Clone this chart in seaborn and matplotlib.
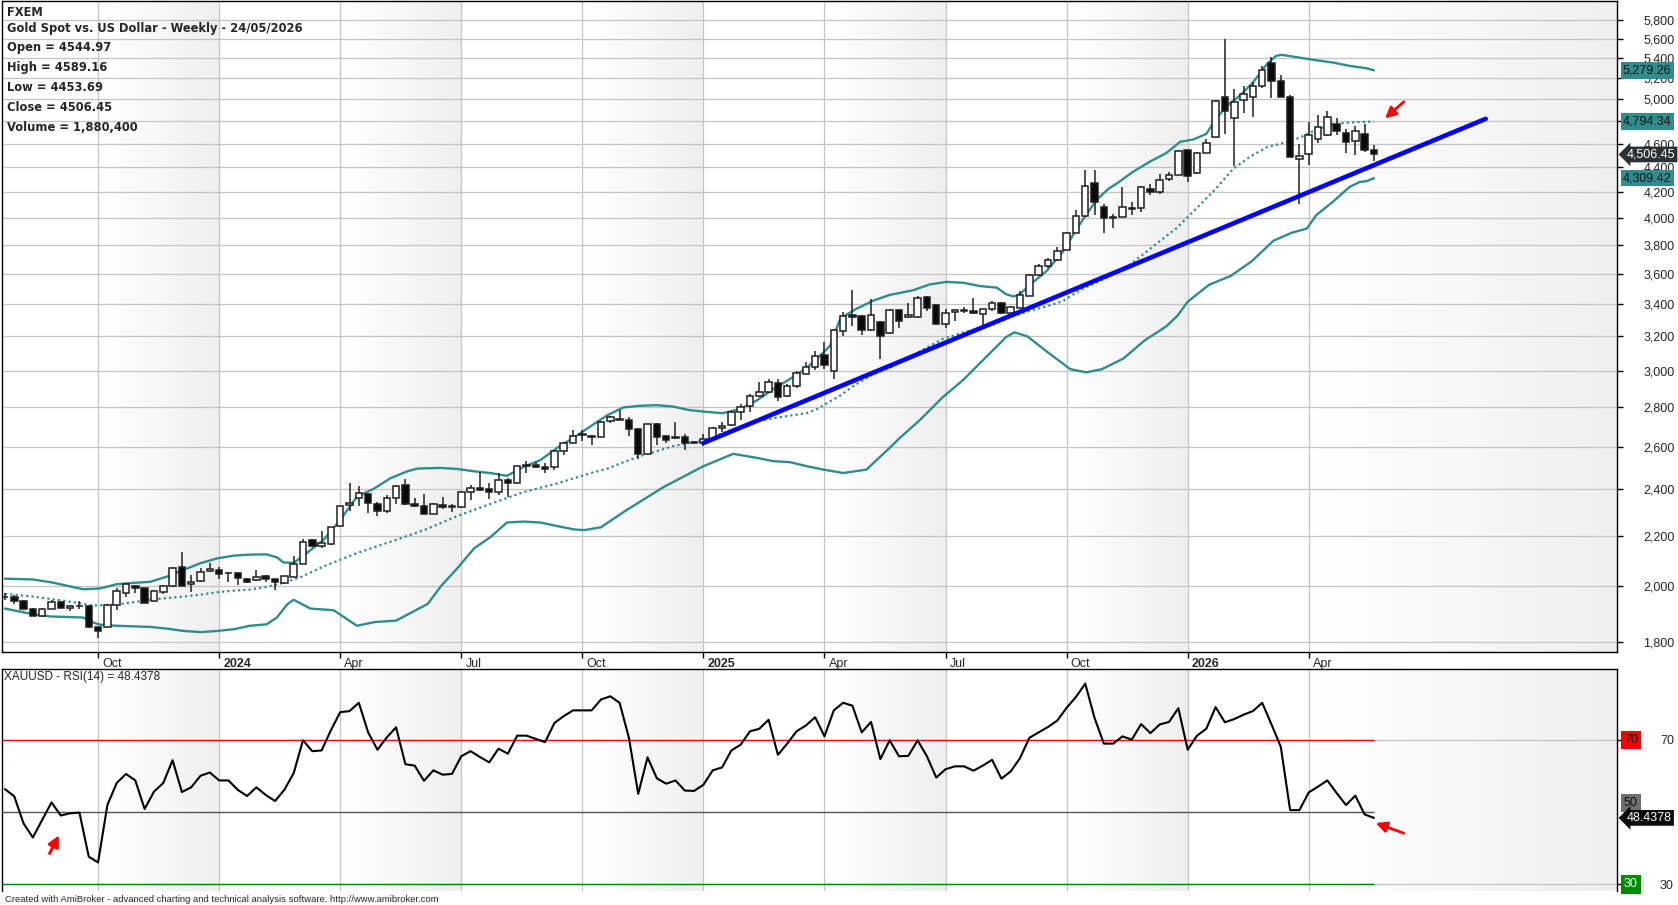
import numpy as np
import pandas as pd
import matplotlib
matplotlib.use("Agg")
import matplotlib.pyplot as plt
import matplotlib.transforms as mtransforms
from matplotlib.ticker import FixedLocator, NullLocator
import seaborn as sns

# ---------------- data ----------------
start_date = "2023-07-28"   # weekly bars, friday dated

opens = [1962, 1960, 1946, 1918, 1893, 1918, 1942, 1921, 1928, 1928,
         1851, 1852, 1932, 1974, 2001, 1992, 1944, 1979, 2000, 2076,
         2008, 2020, 2057, 2064, 2051, 2050, 2029, 2023, 2041, 2026,
         2011, 2034, 2087, 2181, 2156, 2164, 2240, 2329, 2360, 2380,
         2334, 2304, 2360, 2421, 2334, 2328, 2292, 2329, 2327, 2321,
         2387, 2408, 2403, 2387, 2443, 2427, 2514, 2515, 2504, 2501,
         2579, 2620, 2665, 2655, 2651, 2728, 2740, 2735, 2687, 2566,
         2713, 2656, 2651, 2650, 2626, 2617, 2641, 2692, 2708, 2774,
         2806, 2859, 2884, 2934, 2859, 2916, 2984, 3022, 3088, 2999,
         3234, 3330, 3326, 3242, 3287, 3221, 3361, 3318, 3322, 3447,
         3396, 3277, 3350, 3363, 3357, 3340, 3368, 3409, 3346, 3379,
         3454, 3593, 3651, 3692, 3768, 3890, 4015, 4267, 4085, 4005,
         4008, 4077, 4072, 4221, 4200, 4301, 4339, 4541, 4351, 4523,
         4655, 5022, 4829, 4990, 5022, 5124, 5357, 5175, 5022, 4471,
         4512, 4638, 4672, 4771, 4690, 4626, 4687, 4544.97]
highs = [1976, 1969, 1948, 1920, 1921, 1949, 1946, 1930, 1945, 1931,
         1852, 1936, 1992, 2010, 2004, 1995, 1986, 2006, 2076, 2132,
         2043, 2069, 2089, 2076, 2056, 2053, 2031, 2063, 2044, 2029,
         2040, 2118, 2188, 2186, 2219, 2238, 2328, 2430, 2414, 2384,
         2342, 2373, 2419, 2448, 2361, 2381, 2338, 2364, 2334, 2393,
         2419, 2480, 2427, 2475, 2451, 2510, 2531, 2526, 2521, 2583,
         2624, 2684, 2682, 2660, 2731, 2757, 2788, 2749, 2692, 2716,
         2720, 2660, 2723, 2662, 2631, 2662, 2699, 2723, 2783, 2818,
         2871, 2939, 2952, 2955, 2925, 2996, 3050, 3116, 3166, 3243,
         3348, 3493, 3330, 3433, 3292, 3367, 3367, 3411, 3450, 3453,
         3400, 3368, 3368, 3383, 3443, 3372, 3418, 3416, 3387, 3485,
         3598, 3670, 3709, 3788, 3897, 4059, 4373, 4373, 4102, 4027,
         4240, 4123, 4245, 4259, 4347, 4362, 4545, 4547, 4524, 4638,
         4990, 5600, 5095, 5121, 5162, 5323, 5414, 5233, 5041, 4594,
         4794, 4852, 4889, 4825, 4725, 4757, 4771, 4589.16]
lows = [1948, 1933, 1916, 1891, 1891, 1916, 1919, 1908, 1918, 1848,
        1815, 1848, 1914, 1960, 1974, 1937, 1941, 1972, 1997, 2000,
        1978, 2017, 2054, 2029, 2017, 2006, 2014, 2020, 2018, 1988,
        2008, 2030, 2084, 2155, 2151, 2161, 2237, 2306, 2328, 2295,
        2281, 2295, 2334, 2331, 2324, 2290, 2290, 2313, 2299, 2318,
        2351, 2393, 2355, 2373, 2367, 2424, 2475, 2500, 2475, 2488,
        2562, 2617, 2629, 2607, 2647, 2719, 2733, 2655, 2542, 2563,
        2607, 2617, 2640, 2584, 2617, 2603, 2636, 2672, 2706, 2737,
        2778, 2856, 2879, 2836, 2856, 2904, 2980, 3002, 3012, 2955,
        3200, 3266, 3206, 3232, 3070, 3214, 3252, 3314, 3314, 3355,
        3271, 3254, 3292, 3342, 3340, 3271, 3355, 3340, 3340, 3375,
        3450, 3588, 3640, 3685, 3763, 3885, 4008, 4021, 3890, 3923,
        4003, 4020, 4046, 4174, 4183, 4288, 4333, 4277, 4345, 4518,
        4651, 4684, 4409, 4874, 4838, 5105, 5010, 5016, 4485, 4103,
        4421, 4606, 4667, 4672, 4522, 4503, 4524, 4453.69]
closes = [1961, 1946, 1918, 1893, 1918, 1942, 1921, 1928, 1929, 1852,
          1838, 1932, 1981, 2007, 1992, 1939, 1982, 2003, 2072, 2003,
          2018, 2054, 2065, 2046, 2049, 2030, 2018, 2037, 2026, 2016,
          2038, 2085, 2175, 2158, 2168, 2235, 2325, 2341, 2386, 2338,
          2305, 2360, 2416, 2335, 2328, 2292, 2334, 2321, 2321, 2390,
          2408, 2396, 2387, 2442, 2427, 2507, 2507, 2504, 2494, 2579,
          2620, 2655, 2658, 2650, 2723, 2749, 2736, 2687, 2563, 2713,
          2651, 2636, 2646, 2621, 2621, 2638, 2692, 2704, 2774, 2800,
          2862, 2884, 2937, 2857, 2916, 2987, 3022, 3082, 3032, 3237,
          3324, 3320, 3240, 3330, 3202, 3363, 3292, 3331, 3441, 3376,
          3277, 3342, 3363, 3357, 3346, 3368, 3409, 3342, 3383, 3460,
          3591, 3651, 3692, 3761, 3890, 4015, 4248, 4118, 4000, 4001,
          4085, 4067, 4240, 4200, 4299, 4339, 4532, 4329, 4518, 4603,
          4984, 4889, 4975, 5052, 5121, 5283, 5175, 5022, 4488, 4497,
          4678, 4748, 4832, 4713, 4612, 4710, 4541, 4506.45]
volume_last = 1880400

# bollinger bands, read at bar positions
upper_x = [0, 3, 5, 8.4, 10.2, 12, 13.8, 15.6, 17.4, 19.2, 21, 22.8, 24.6, 26.3, 28.1,
           29.2, 29.9, 31, 32.4, 34.2, 36, 37.8, 39.6, 41.4, 43.2, 44.3, 46.8, 48.6, 50.4, 52.1,
           53.9, 55.7, 57.5, 59.3, 61.1, 62.9, 64.6, 66.4, 68.2, 70, 71.7, 73.5, 75.3, 77.1, 78.9,
           80.7, 82.5, 84.3, 86.1, 87.9, 88.6, 89.7, 91.4, 93.2, 95, 97.5, 99.3, 101.1, 102.9, 104.7,
           106.5, 107.5, 108.3, 109, 110.1, 111.8, 113.6, 115.4, 117.2, 118.5, 119.4, 121.1, 122.9, 124.7, 126.2,
           127.6, 129, 130.1, 131.2, 132.6, 134, 135.5, 136.5, 137.1, 139, 140.8, 142.6, 144.4, 146.2, 147]
upper_y = [2029, 2026, 2015, 1989, 1992, 2008, 2013, 2017, 2037, 2063, 2089, 2108, 2119, 2123, 2124,
           2112, 2092, 2090, 2129, 2182, 2266, 2367, 2403, 2451, 2483, 2496, 2499, 2494, 2483, 2475,
           2462, 2504, 2536, 2595, 2646, 2703, 2757, 2800, 2809, 2812, 2805, 2786, 2777, 2770, 2791,
           2836, 2898, 2954, 3016, 3106, 3145, 3310, 3370, 3422, 3460, 3490, 3529, 3546, 3540, 3518,
           3508, 3465, 3450, 3465, 3529, 3616, 3754, 3951, 4136, 4225, 4267, 4360, 4444, 4518, 4615,
           4635, 4684, 4825, 4937, 5033, 5159, 5340, 5425, 5435, 5407, 5380, 5357, 5323, 5300, 5279.26]
middle_x = [0, 3, 6.6, 9.5, 12, 13.8, 15.6, 17.4, 19.2, 21, 22.8, 24.6, 26.3, 28.1, 29.9,
            31.7, 34.2, 37.8, 41.4, 45, 48.6, 52.1, 55.7, 59.3, 62.9, 64.6, 66.4, 68.2, 70, 71.7,
            73.5, 75, 77.1, 78.9, 80.7, 82.5, 84.3, 86.1, 87.2, 87.9, 89.7, 91.4, 93.2, 95, 100.7,
            102.9, 104.7, 106.5, 108.3, 110.1, 111.8, 113.6, 115.4, 120.1, 125.8, 128.3, 130.1, 131.9, 133.7, 135.5,
            137.3, 139, 140.8, 142.6, 144.4, 147]
middle_y = [1972, 1962, 1945, 1929, 1933, 1941, 1951, 1956, 1962, 1969, 1978, 1984, 1988, 1998, 2013,
            2034, 2076, 2129, 2175, 2223, 2283, 2335, 2388, 2427, 2475, 2494, 2526, 2555, 2579, 2603,
            2620, 2629, 2668, 2700, 2727, 2744, 2757, 2770, 2791, 2812, 2864, 2925, 2979, 3016, 3185,
            3224, 3250, 3282, 3325, 3360, 3385, 3420, 3490, 3628, 3923, 4097, 4232, 4387, 4488, 4568,
            4606, 4649, 4722, 4771, 4786, 4794.34]
lower_x = [0, 3, 4.8, 8.4, 9.5, 10.2, 12, 15.6, 17.4, 19.2, 21, 22.8, 24.6, 26.3, 28.1,
           29.2, 30.3, 31, 32.8, 35.3, 37.8, 39.7, 42, 45.4, 46.8, 48.6, 50.4, 52.1, 53.9, 55.7,
           57.5, 59.3, 61.1, 62.2, 64, 66.7, 70.7, 74.9, 78.2, 80.7, 82.5, 84.3, 86.1, 87.9, 90,
           92.5, 95, 96, 98.3, 100.6, 102.9, 105.2, 107.5, 108.4, 109.8, 112.1, 114.4, 116.1, 117.8, 120.1,
           122.4, 124.7, 125.9, 127, 129.3, 131.6, 133.9, 136.2, 138.2, 139.8, 140.8, 142.6, 144.4, 145.5, 146.2, 147]
lower_y = [1918, 1898, 1890, 1886, 1868, 1861, 1857, 1853, 1847, 1839, 1835, 1839, 1845, 1857, 1862,
           1886, 1933, 1950, 1918, 1912, 1857, 1870, 1875, 1935, 2000, 2070, 2149, 2193, 2255, 2259,
           2255, 2240, 2226, 2223, 2235, 2307, 2410, 2505, 2566, 2547, 2531, 2526, 2507, 2491, 2475,
           2491, 2595, 2640, 2737, 2850, 2949, 3070, 3196, 3225, 3200, 3101, 3009, 2991, 3009, 3070,
           3177, 3261, 3327, 3416, 3527, 3585, 3687, 3831, 3890, 3920, 4020, 4123, 4240, 4280, 4285, 4309.42]

# hand drawn trend line (bar, price)
trend_x = [75, 159]
trend_y = [2619, 4819]

rsi = [56.4, 54.4, 46.9, 43.0, 47.9, 52.7, 49.1, 49.7, 49.9, 37.7,
       36.1, 52.0, 58.1, 60.6, 58.8, 50.9, 55.7, 58.1, 64.4, 55.6,
       56.9, 60.1, 61.0, 58.8, 58.8, 56.2, 54.5, 56.9, 54.8, 53.1,
       56.2, 60.8, 69.9, 66.9, 67.1, 72.7, 77.7, 78.0, 80.3, 72.1,
       67.3, 70.7, 73.5, 63.3, 62.9, 58.7, 61.6, 60.4, 60.6, 65.5,
       66.9, 65.3, 63.8, 67.6, 66.2, 71.2, 71.2, 70.3, 69.4, 74.7,
       76.6, 78.2, 78.2, 78.2, 81.2, 82.1, 80.3, 70.6, 55.1, 65.2,
       59.4, 57.9, 58.8, 56.0, 55.9, 57.6, 61.6, 62.4, 67.1, 68.7,
       72.4, 73.1, 75.6, 65.9, 69.0, 72.4, 74.0, 76.3, 71.0, 78.2,
       80.3, 79.5, 72.1, 75.0, 64.7, 69.9, 65.5, 65.6, 69.9, 65.5,
       59.6, 61.9, 62.7, 62.7, 61.5, 62.9, 64.5, 59.3, 61.3, 65.0,
       70.6, 72.1, 73.6, 75.4, 78.9, 81.9, 85.6, 76.1, 69.0, 69.0,
       71.0, 70.1, 74.4, 71.9, 74.3, 75.0, 78.8, 67.3, 71.2, 73.1,
       79.1, 74.9, 75.8, 77.0, 78.0, 80.3, 74.3, 68.1, 50.6, 50.6,
       55.5, 57.1, 58.8, 55.3, 52.0, 54.6, 49.4, 48.4378]

price_ticks = list(range(1800, 6000, 200))

# ---------------- figure ----------------
sns.set_style("white")
plt.rcParams["font.family"] = ["Liberation Sans", "DejaVu Sans"]

W, H = 1678, 905
fig = plt.figure(figsize=(W / 100, H / 100), dpi=100)
ax = fig.add_axes([1.5 / W, 1 - 652 / H, 1615.5 / W, 651.5 / H])
ax2 = fig.add_axes([1.5 / W, 1 - 891 / H, 1615.5 / W, 222 / H])

dates = pd.date_range(start_date, periods=len(closes), freq="W-FRI")
idx = np.arange(len(dates))
x_lo, x_hi = -0.37, 173.1

q_pos, q_lab = [], []
for i in range(1, len(dates)):
    m = dates[i].month
    if m != dates[i - 1].month and m in (1, 4, 7, 10):
        q_pos.append(i)
        q_lab.append(str(dates[i].year) if m == 1 else dates[i].strftime("%b"))

bands = []
for k, p in enumerate(q_pos):
    if dates[p].month in (4, 10):
        end = q_pos[k + 1] if k + 1 < len(q_pos) else x_hi
        bands.append((p, end))


def shade(a, x0, x1, n=40):
    edges = np.linspace(x0, x1, n + 1)
    for k in range(n):
        g = 1.0 - 0.065 * (k + 0.5) / n
        a.axvspan(edges[k], edges[k + 1], color=(g, g, g), lw=0, zorder=0)


grid_c = "#c4c4c4"
teal = "#2f8d8d"

for a in (ax, ax2):
    for b0, b1 in bands:
        shade(a, b0, b1)
    a.set_xlim(x_lo, x_hi)
    for s in a.spines.values():
        s.set_color("black")
        s.set_linewidth(1)
    a.set_xticks(q_pos)
    a.grid(True, axis="x", color=grid_c, lw=0.9)
    a.set_axisbelow(True)

# ---- price panel ----
ax.set_yscale("log")
ax.set_ylim(1767.6, 6020)
ax.yaxis.set_major_locator(FixedLocator(price_ticks))
ax.yaxis.set_minor_locator(NullLocator())
# the 4,800 label sits under the mid band value box, as in the original
ax.set_yticklabels(["" if v == 4800 else f"{v:,}" for v in price_ticks])
ax.yaxis.tick_right()
ax.tick_params(axis="y", which="major", right=True, left=False, labelright=True, labelleft=False,
               direction="out", length=4, width=1, color="black", pad=15, labelsize=9)
ax.grid(True, axis="y", color=grid_c, lw=0.9)

ax.set_xticklabels(q_lab, ha="left")
ax.tick_params(axis="x", bottom=True, direction="out", length=4, width=1, color="black",
               pad=0, labelsize=9)
offset = mtransforms.ScaledTranslation(3 / 72, 0, fig.dpi_scale_trans)
for lab in ax.get_xticklabels():
    lab.set_transform(lab.get_transform() + offset)
    if lab.get_text().isdigit():
        lab.set_fontweight("bold")

o = np.array(opens, dtype=float)
c = np.array(closes, dtype=float)
body_lo = np.minimum(o, c)
body_hi = np.maximum(o, c)
face = np.where(c >= o, "white", "#0a0a0a")
edge_c = "#202020"
ax.vlines(idx, lows, highs, color=edge_c, lw=1.1, zorder=3)
ax.bar(idx, body_hi - body_lo, bottom=body_lo, width=0.7, color=face,
       edgecolor=edge_c, linewidth=1.1, zorder=4)

sns.lineplot(x=upper_x, y=upper_y, ax=ax, color=teal, linewidth=1.7, zorder=2)
sns.lineplot(x=lower_x, y=lower_y, ax=ax, color=teal, linewidth=1.7, zorder=2)
sns.lineplot(x=middle_x, y=middle_y, ax=ax, color=teal, linewidth=1.6,
             linestyle=(0, (1, 1.4)), zorder=2)
sns.lineplot(x=trend_x, y=trend_y, ax=ax, color="#0000ff", linewidth=3.3, zorder=5)

ax.annotate("", xy=(148.2, 4823), xytext=(150.2, 4975),
            arrowprops=dict(arrowstyle="-|>", color="red", lw=2.0,
                            mutation_scale=16, shrinkA=0, shrinkB=0))

tr = mtransforms.blended_transform_factory(ax.transAxes, ax.transData)


def value_box(a, trf, y, text, fc, tc, style="square,pad=0.18", dx=6):
    a.text(1 + dx / 1615, y, text, transform=trf, ha="left", va="center",
           fontsize=9, color=tc, zorder=20, clip_on=False,
           bbox=dict(boxstyle=style, fc=fc, ec="none"))


value_box(ax, tr, upper_y[-1], f"{upper_y[-1]:,.2f}", teal, "#111111")
value_box(ax, tr, middle_y[-1], f"{middle_y[-1]:,.2f}", teal, "#111111")
value_box(ax, tr, lower_y[-1], f"{lower_y[-1]:,.2f}", teal, "#111111")
value_box(ax, tr, closes[-1], f"{closes[-1]:,.2f}", "#2b3136", "white",
          style="larrow,pad=0.15", dx=10)

# header text
hdr = ["FXEM",
       f"Gold Spot vs. US Dollar - Weekly - {dates[-1] + pd.Timedelta(days=2):%d/%m/%Y}",
       f"Open = {opens[-1]:.2f}",
       f"High = {highs[-1]:.2f}",
       f"Low = {lows[-1]:.2f}",
       f"Close = {closes[-1]:.2f}",
       f"Volume = {volume_last:,}"]
hdr_y = [12.7, 28.3, 47.7, 67.7, 87.7, 107.7, 127.3]
for t, yy in zip(hdr, hdr_y):
    fig.text(7 / W, 1 - yy / H, t, fontsize=8.3, fontweight="bold", va="center", ha="left",
             family=["DejaVu Sans"])

# ---- RSI panel ----
ax2.set_ylim(28.2, 89.65)
ax2.set_yticks([30, 70])
ax2.set_yticklabels(["30", "70"])
ax2.yaxis.tick_right()
ax2.tick_params(axis="y", right=True, left=False, labelright=True, labelleft=False,
                direction="out", length=4, width=1, color="black", pad=27, labelsize=9)
ax2.tick_params(axis="x", bottom=False, labelbottom=False, length=0)
ax2.grid(True, axis="y", color=grid_c, lw=0.9)
ax2.spines["bottom"].set_visible(False)

ax2.hlines(70, x_lo, idx[-1], color="#ff0000", lw=1.0, zorder=2)
ax2.hlines(50, x_lo, idx[-1], color="#555555", lw=1.0, zorder=2)
ax2.hlines(30, x_lo, idx[-1], color="#008000", lw=1.0, zorder=2)
sns.lineplot(x=idx, y=rsi, ax=ax2, color="black", linewidth=1.5, zorder=4)

ax2.annotate("", xy=(5.8, 43.6), xytext=(4.8, 38.6),
             arrowprops=dict(arrowstyle="-|>", color="red", lw=2.2,
                             mutation_scale=16, shrinkA=0, shrinkB=0))
ax2.annotate("", xy=(147.2, 47.0), xytext=(150.2, 44.2),
             arrowprops=dict(arrowstyle="-|>", color="red", lw=2.0,
                             mutation_scale=16, shrinkA=0, shrinkB=0))

tr2 = mtransforms.blended_transform_factory(ax2.transAxes, ax2.transData)
value_box(ax2, tr2, 70, "70", "#ff0000", "#111111", style="square,pad=0.25", dx=7)
value_box(ax2, tr2, 52.6, "50", "#6e6e6e", "#111111", style="square,pad=0.25", dx=7)
value_box(ax2, tr2, 30, "30", "#008c00", "white", style="square,pad=0.25", dx=7)
value_box(ax2, tr2, rsi[-1], f"{rsi[-1]:.4f}", "#0a0a0a", "white",
          style="larrow,pad=0.15", dx=10)

ax2.text(2.5 / 1615, 1 - 8 / 222, f"XAUUSD - RSI(14) = {rsi[-1]:.4f}",
         transform=ax2.transAxes, fontsize=8.5, va="center", ha="left", zorder=20)

fig.text(5 / W, 1 - 899 / H,
         "Created with AmiBroker - advanced charting and technical analysis software. http://www.amibroker.com",
         fontsize=6.8, va="center", ha="left")

fig.savefig("out.png", dpi=100)
